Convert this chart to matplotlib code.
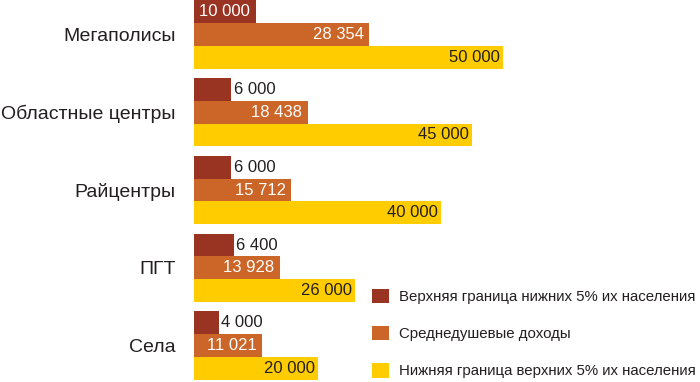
import numpy as np
import matplotlib.pyplot as plt
from matplotlib.patches import Patch

plt.rcParams['font.family'] = ['Liberation Sans', 'DejaVu Sans']

categories = ["Мегаполисы", "Областные центры", "Райцентры", "ПГТ", "Села"]
low5 = [10000, 6000, 6000, 6400, 4000]
mean_income = [28354, 18438, 15712, 13928, 11021]
top5 = [50000, 45000, 40000, 26000, 20000]
series_names = ["Верхняя граница нижних 5% их населения",
                "Среднедушевые доходы",
                "Нижняя граница верхних 5% их населения"]
colors = ["#993322", "#cc6628", "#ffcc00"]
text_col = "#231f20"

def fmt(v):
    return "{:,}".format(v).replace(",", " ")

fig = plt.figure(figsize=(7, 3.82), dpi=100)
ax = fig.add_axes([194 / 700, 0, 506 / 700, 1])

y = np.arange(len(categories))
h = 0.292
ax.barh(y - h, low5, height=h, color=colors[0])
ax.barh(y, mean_income, height=h, color=colors[1])
ax.barh(y + h, top5, height=h, color=colors[2])

ax.set_xlim(0, 81900)
ax.set_ylim(4.469, -0.444)

# value labels
for i in range(len(categories)):
    v = low5[i]
    if v >= 10000:
        ax.annotate(fmt(v), (v, i - h), xytext=(-4, 0), textcoords="offset points",
                    ha="right", va="center", color="white", fontsize=12)
    else:
        ax.annotate(fmt(v), (v, i - h), xytext=(2, 0), textcoords="offset points",
                    ha="left", va="center", color=text_col, fontsize=12)
    ax.annotate(fmt(mean_income[i]), (mean_income[i], i), xytext=(-4, 0),
                textcoords="offset points", ha="right", va="center",
                color="white", fontsize=12)
    ax.annotate(fmt(top5[i]), (top5[i], i + h), xytext=(-2, 0),
                textcoords="offset points", ha="right", va="center",
                color=text_col, fontsize=12)

ax.set_yticks(y)
ax.set_yticklabels(categories, fontsize=14, color=text_col)
ax.tick_params(axis="y", length=0, pad=13)
ax.set_xticks([])
for s in ax.spines.values():
    s.set_visible(False)

handles = [Patch(facecolor=c) for c in colors]
fig.legend(handles, series_names, loc="upper left",
           bbox_to_anchor=(372 / 700, 1 - 289 / 382),
           frameon=False, fontsize=10.8, labelcolor=text_col,
           borderpad=0, borderaxespad=0,
           handlelength=1.1, handleheight=1.1, handletextpad=0.7,
           labelspacing=1.45)

fig.savefig("out.png", dpi=100)
